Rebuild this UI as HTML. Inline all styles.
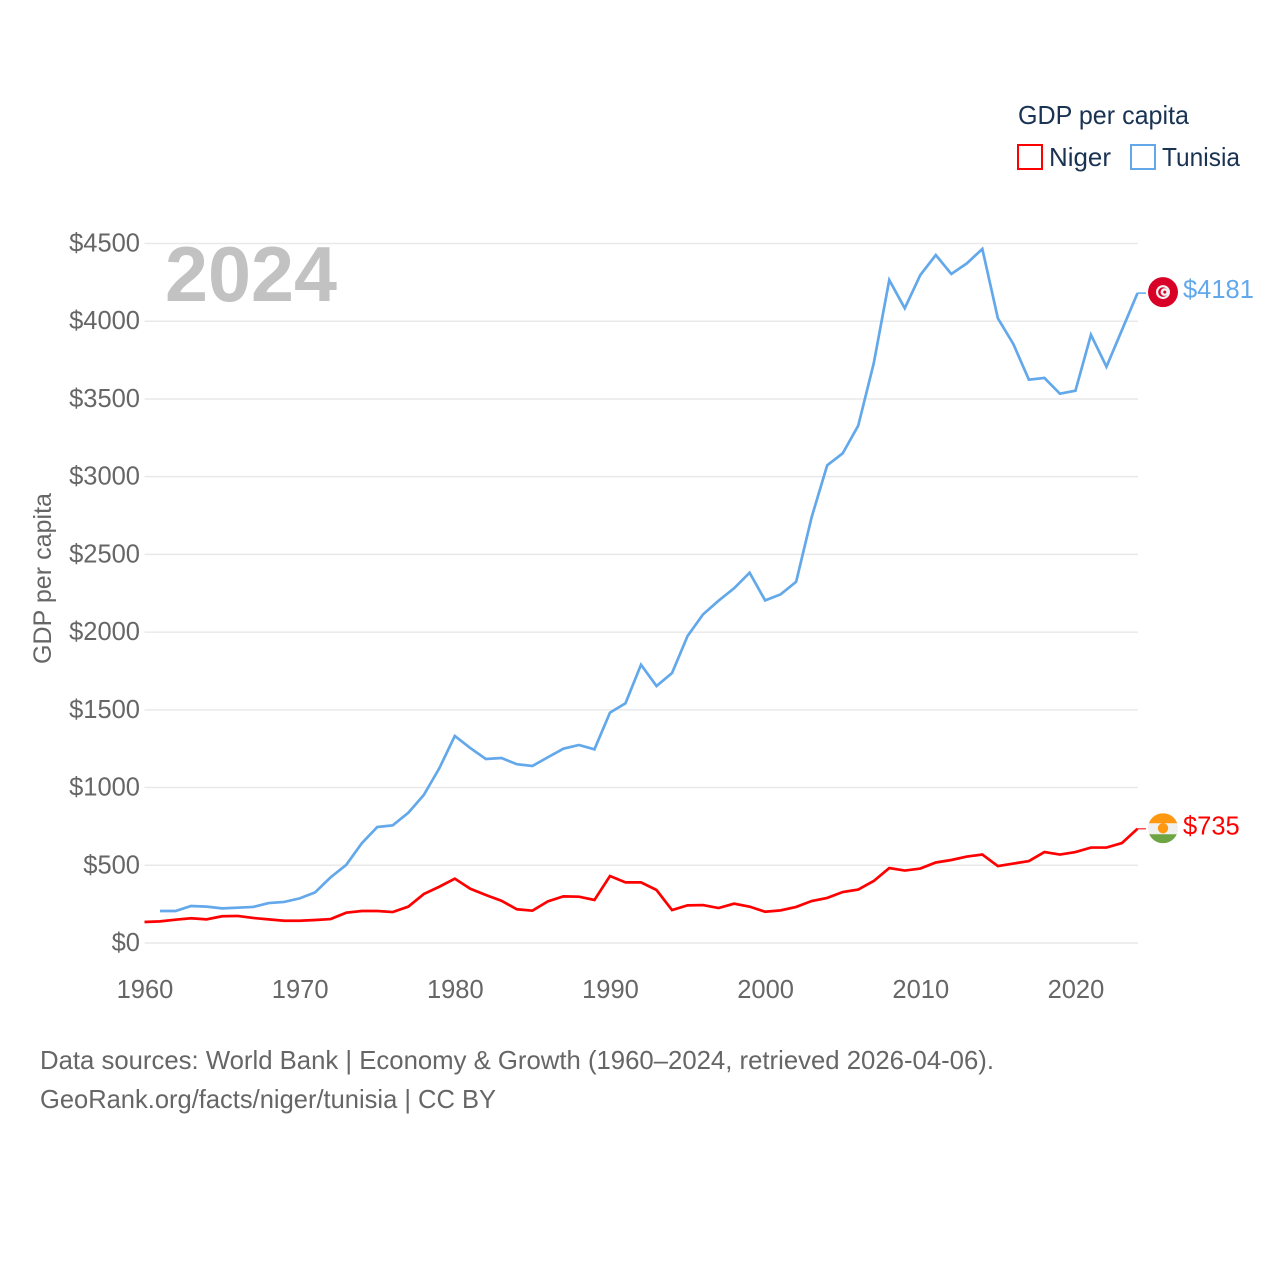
<!DOCTYPE html>
<html lang="en">
<head>
<meta charset="utf-8">
<title>GDP per capita: Niger and Tunisia</title>
<style>
html,body{margin:0;padding:0;background:#fff;}
svg{display:block;}
text{font-family:"Liberation Sans",sans-serif;}
</style>
</head>
<body>
<svg id="chart" xmlns="http://www.w3.org/2000/svg" width="1280" height="1280" viewBox="0 0 1280 1280">
  <defs>
    <clipPath id="flag-clip-niger"><circle cx="0" cy="0" r="15"/></clipPath>
  </defs>
  <rect x="0" y="0" width="1280" height="1280" fill="#ffffff"/>
  <g id="grid"></g>
  <g id="y-ticks"></g>
  <g id="x-ticks"></g>
  <text x="165" y="301" font-size="78" font-weight="700" fill="#c2c2c2" textLength="172" lengthAdjust="spacingAndGlyphs">2024</text>
  <text transform="translate(51,664) rotate(-90)" font-size="25" fill="#666666" textLength="171" lengthAdjust="spacingAndGlyphs">GDP per capita</text>
  <g id="series"></g>
  <g id="end-markers"></g>
  <g>
    <text x="1018" y="124" font-size="26" fill="#1a3353" textLength="171" lengthAdjust="spacingAndGlyphs">GDP per capita</text>
    <g>
      <rect x="1018" y="145" width="24" height="24" fill="#ffffff" stroke="#ff0000" stroke-width="2"/>
      <text x="1049" y="166" font-size="26" fill="#1a3353" textLength="62" lengthAdjust="spacingAndGlyphs">Niger</text>
    </g>
    <g>
      <rect x="1131" y="145" width="24" height="24" fill="#ffffff" stroke="#62a8ea" stroke-width="2"/>
      <text x="1162" y="166" font-size="26" fill="#1a3353" textLength="78" lengthAdjust="spacingAndGlyphs">Tunisia</text>
    </g>
  </g>
  <text x="40" y="1069" font-size="26" fill="#666666" textLength="954" lengthAdjust="spacingAndGlyphs">Data sources: World Bank | Economy &amp; Growth (1960–2024, retrieved 2026-04-06).</text>
  <text x="40" y="1108" font-size="26" fill="#666666" textLength="456" lengthAdjust="spacingAndGlyphs">GeoRank.org/facts/niger/tunisia | CC BY</text>
</svg>
<script>
const years = [1960,1961,1962,1963,1964,1965,1966,1967,1968,1969,1970,1971,1972,1973,1974,1975,1976,1977,1978,1979,1980,1981,1982,1983,1984,1985,1986,1987,1988,1989,1990,1991,1992,1993,1994,1995,1996,1997,1998,1999,2000,2001,2002,2003,2004,2005,2006,2007,2008,2009,2010,2011,2012,2013,2014,2015,2016,2017,2018,2019,2020,2021,2022,2023,2024];
const nigerValues = [135,139,150,159,152,172,174,161,152,143,143,148,154,195,206,206,199,234,315,362,414,349,309,272,217,208,268,300,298,277,431,390,390,341,212,242,244,225,253,234,201,210,232,270,290,328,344,399,482,466,479,518,534,556,569,495,511,527,585,569,585,614,614,643,735];
const tunisiaValues = [null,206,206,238,234,223,227,232,257,264,287,326,423,502,641,746,757,838,952,1124,1332,1254,1184,1190,1150,1139,1195,1250,1274,1246,1482,1542,1790,1653,1737,1975,2114,2202,2282,2382,2204,2243,2324,2740,3073,3150,3328,3729,4265,4083,4297,4426,4304,4372,4465,4019,3853,3624,3635,3534,3553,3913,3707,3944,4181];
const yTickValues = [0,500,1000,1500,2000,2500,3000,3500,4000,4500];
const xTickValues = [1960,1970,1980,1990,2000,2010,2020];

const svgNS = 'http://www.w3.org/2000/svg';
const plotLeft = 144.5, plotRight = 1137.5, plotBottom = 943, plotTop = 243.5;
const domainYearMin = 1960, domainYearMax = 2024, domainValueMax = 4500;

function xScale(year) {
  return plotLeft + (year - domainYearMin) / (domainYearMax - domainYearMin) * (plotRight - plotLeft);
}
function yScale(value) {
  return plotBottom - value / domainValueMax * (plotBottom - plotTop);
}
function make(tag, attrs, parent) {
  const el = document.createElementNS(svgNS, tag);
  Object.keys(attrs).forEach(function (key) { el.setAttribute(key, attrs[key]); });
  parent.appendChild(el);
  return el;
}
function linePath(values) {
  let d = '';
  values.forEach(function (value, i) {
    if (value === null) return;
    d += (d ? 'L' : 'M') + xScale(years[i]).toFixed(2) + ' ' + yScale(value).toFixed(2);
  });
  return d;
}

const gridGroup = document.getElementById('grid');
const yTickGroup = document.getElementById('y-ticks');
yTickValues.forEach(function (value) {
  const y = yScale(value);
  const line = make('line', {x1: plotLeft, x2: plotRight + 0.5, y1: y, y2: y, stroke: '#e9e9e9', 'stroke-width': 1.5}, gridGroup);
  
  
  const label = make('text', {x: 140, y: y + 8, 'text-anchor': 'end', 'font-size': 25.5, fill: '#666666'}, yTickGroup);
  label.textContent = '$' + value;
  
  
});

const xTickGroup = document.getElementById('x-ticks');
xTickValues.forEach(function (year) {
  const label = make('text', {x: xScale(year) + 0.5, y: 998, 'text-anchor': 'middle', 'font-size': 25.5, fill: '#666666'}, xTickGroup);
  label.textContent = String(year);
  
  
});

const seriesGroup = document.getElementById('series');
const tunisiaLine = make('path', {d: linePath(tunisiaValues), fill: 'none', stroke: '#62a8ea', 'stroke-width': 2.7}, seriesGroup);


const nigerLine = make('path', {d: linePath(nigerValues), fill: 'none', stroke: '#ff0000', 'stroke-width': 2.7}, seriesGroup);



const markerGroup = document.getElementById('end-markers');
const flagX = 1163;
const tunisiaLast = tunisiaValues[tunisiaValues.length - 1];
const nigerLast = nigerValues[nigerValues.length - 1];
const tunisiaY = yScale(tunisiaLast);
const nigerY = yScale(nigerLast);

const tunisiaConnector = make('line', {x1: plotRight, x2: 1146, y1: tunisiaY, y2: tunisiaY, stroke: '#62a8ea', 'stroke-width': 1.5}, markerGroup);


const nigerConnector = make('line', {x1: plotRight, x2: 1146, y1: nigerY, y2: nigerY, stroke: '#ff5050', 'stroke-width': 1.5}, markerGroup);



const tunisiaFlag = make('g', {transform: 'translate(' + flagX + ',' + (tunisiaY - 1) + ')'}, markerGroup);


make('circle', {cx: 0, cy: 0, r: 15, fill: '#d80027'}, tunisiaFlag);
make('circle', {cx: 0, cy: 0, r: 7, fill: '#f0f0f0'}, tunisiaFlag);
make('circle', {cx: 0, cy: 0, r: 4.8, fill: '#d80027'}, tunisiaFlag);
make('circle', {cx: 1.4, cy: 0, r: 3.8, fill: '#f0f0f0'}, tunisiaFlag);
make('circle', {cx: 1.8, cy: 0, r: 1.5, fill: '#d80027'}, tunisiaFlag);

const nigerFlag = make('g', {transform: 'translate(' + flagX + ',' + (nigerY - 0.5) + ')', 'clip-path': 'url(#flag-clip-niger)'}, markerGroup);


make('rect', {x: -15, y: -15, width: 30, height: 30, fill: '#f0f0f0'}, nigerFlag);
make('rect', {x: -15, y: -15, width: 30, height: 10, fill: '#ff9811'}, nigerFlag);
make('rect', {x: -15, y: 6, width: 30, height: 9, fill: '#6da544'}, nigerFlag);
make('circle', {cx: 0, cy: 0, r: 5.2, fill: '#ff9811'}, nigerFlag);

const tunisiaValueLabel = make('text', {x: 1183, y: tunisiaY + 5, 'font-size': 25.5, fill: '#62a8ea'}, markerGroup);
tunisiaValueLabel.textContent = '$' + tunisiaLast;


const nigerValueLabel = make('text', {x: 1183, y: nigerY + 6, 'font-size': 25.5, fill: '#ff0000'}, markerGroup);
nigerValueLabel.textContent = '$' + nigerLast;


</script>
</body>
</html>
